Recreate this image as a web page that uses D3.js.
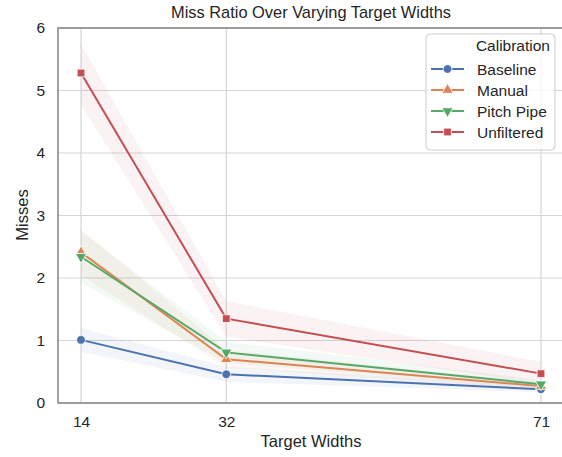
<!DOCTYPE html>
<html><head><meta charset="utf-8">
<script src="https://cdn.jsdelivr.net/npm/d3@7"></script>
<style>body{margin:0;background:#fff;}text{font-family:"Liberation Sans",Arial,sans-serif;fill:#262626;}</style>
</head><body>
<svg id="c" width="562" height="457"></svg>
<script>
const widths = [14, 32, 71];
const series = ["Baseline", "Manual", "Pitch Pipe", "Unfiltered"];
const colors = ["#4C72B0", "#DD8452", "#55A868", "#C44E52"];
const symbols = ["circle", "triangleUp", "triangleDown", "square"];
const baseline = [1.01, 0.46, 0.22];
const manual = [2.41, 0.70, 0.27];
const pitchPipe = [2.34, 0.81, 0.30];
const unfiltered = [5.28, 1.35, 0.47];
const baselineLo = [0.82, 0.34, 0.17];
const baselineHi = [1.20, 0.58, 0.28];
const manualLo = [2.05, 0.57, 0.21];
const manualHi = [2.78, 0.85, 0.33];
const pitchLo = [1.92, 0.64, 0.24];
const pitchHi = [2.75, 0.98, 0.37];
const unfilteredLo = [4.77, 1.06, 0.30];
const unfilteredHi = [5.75, 1.63, 0.66];
const yTicks = [0, 1, 2, 3, 4, 5, 6];

const values = [baseline, manual, pitchPipe, unfiltered];
const los = [baselineLo, manualLo, pitchLo, unfilteredLo];
const his = [baselineHi, manualHi, pitchHi, unfilteredHi];

const svg = d3.select("#c");
const L = 58, R = 564, T = 28, B = 403;
const x = d3.scaleLinear().domain([14 - 0.05*57, 71 + 0.05*57]).range([L, R]);
const y = d3.scaleLinear().domain([0, 6]).range([B, T]);
const FF = '"Liberation Sans",Arial,sans-serif';

// grid
const g = svg.append("g");
g.selectAll(".hg").data(yTicks).join("line")
  .attr("x1", L).attr("x2", R).attr("y1", d => y(d)).attr("y2", d => y(d))
  .attr("stroke", "#d6d6d6").attr("stroke-width", 1.2);
g.selectAll(".vg").data(widths).join("line")
  .attr("y1", T).attr("y2", B).attr("x1", d => x(d)).attr("x2", d => x(d))
  .attr("stroke", "#d6d6d6").attr("stroke-width", 1.2);

// bands
series.forEach((s, i) => {
  const area = d3.area().x((d, j) => x(widths[j])).y0((d, j) => y(los[i][j])).y1((d, j) => y(his[i][j]));
  svg.append("path").datum(widths).attr("d", area)
    .attr("fill", colors[i]).attr("fill-opacity", 0.07);
});
// lines
series.forEach((s, i) => {
  const line = d3.line().x((d, j) => x(widths[j])).y(d => y(d));
  svg.append("path").datum(values[i]).attr("d", line)
    .attr("fill", "none").attr("stroke", colors[i]).attr("stroke-width", 2);
});
function sym(i) {
  const t = symbols[i];
  if (t === "circle") return d3.symbol(d3.symbolCircle, 60)();
  if (t === "square") return d3.symbol(d3.symbolSquare, 60)();
  return d3.symbol(d3.symbolTriangle, 55)();
}
series.forEach((s, i) => {
  svg.selectAll(null).data(values[i]).join("path")
    .attr("d", sym(i))
    .attr("transform", (d, j) => `translate(${x(widths[j])},${y(d)})` + (symbols[i] === "triangleDown" ? " rotate(180)" : ""))
    .attr("fill", colors[i]).attr("stroke", "#fff").attr("stroke-width", 0.8);
});

// frame
svg.append("rect").attr("x", L).attr("y", T).attr("width", R - L).attr("height", B - T)
  .attr("fill", "none").attr("stroke", "#8a8a8a").attr("stroke-width", 1.6);

// axes
const yAxis = d3.axisLeft(y).tickValues(yTicks).tickFormat(d3.format("d")).tickSize(0).tickPadding(13);
const ya = svg.append("g").attr("transform", `translate(${L},0)`).call(yAxis);
ya.select(".domain").remove();
ya.selectAll("text").style("font-size", "15.5px").style("font-family", FF).attr("fill", "#262626");
const xAxis = d3.axisBottom(x).tickValues(widths).tickFormat(d3.format("d")).tickSize(0).tickPadding(13);
const xa = svg.append("g").attr("transform", `translate(0,${B})`).call(xAxis);
xa.select(".domain").remove();
xa.selectAll("text").style("font-size", "15.5px").style("font-family", FF).attr("fill", "#262626");

svg.append("text").attr("x", 311).attr("y", 18).attr("text-anchor", "middle").style("font-size", "16.4px")
  .text("Miss Ratio Over Varying Target Widths");
svg.append("text").attr("x", 311).attr("y", 447).attr("text-anchor", "middle").style("font-size", "16.5px")
  .text("Target Widths");
svg.append("text").attr("transform", "translate(28,215) rotate(-90)").attr("text-anchor", "middle").style("font-size", "16.5px")
  .text("Misses");

// legend
const lg = svg.append("g");
lg.append("rect").attr("x", 426).attr("y", 34).attr("width", 129).attr("height", 116).attr("rx", 4)
  .attr("fill", "#fff").attr("fill-opacity", 0.8).attr("stroke", "#cccccc").attr("stroke-width", 1);
lg.append("text").attr("x", 550).attr("y", 51).attr("text-anchor", "end").style("font-size", "15.5px").text("Calibration");
series.forEach((s, i) => {
  const yy = 69 + i * 21;
  lg.append("line").attr("x1", 431).attr("x2", 464).attr("y1", yy).attr("y2", yy)
    .attr("stroke", colors[i]).attr("stroke-width", 2);
  lg.append("path").attr("d", sym(i))
    .attr("transform", `translate(447.5,${yy})` + (symbols[i] === "triangleDown" ? " rotate(180)" : ""))
    .attr("fill", colors[i]).attr("stroke", "#fff").attr("stroke-width", 0.8);
  lg.append("text").attr("x", 477).attr("y", yy + 5.5).style("font-size", "15.5px").text(s);
});
</script>
</body></html>
